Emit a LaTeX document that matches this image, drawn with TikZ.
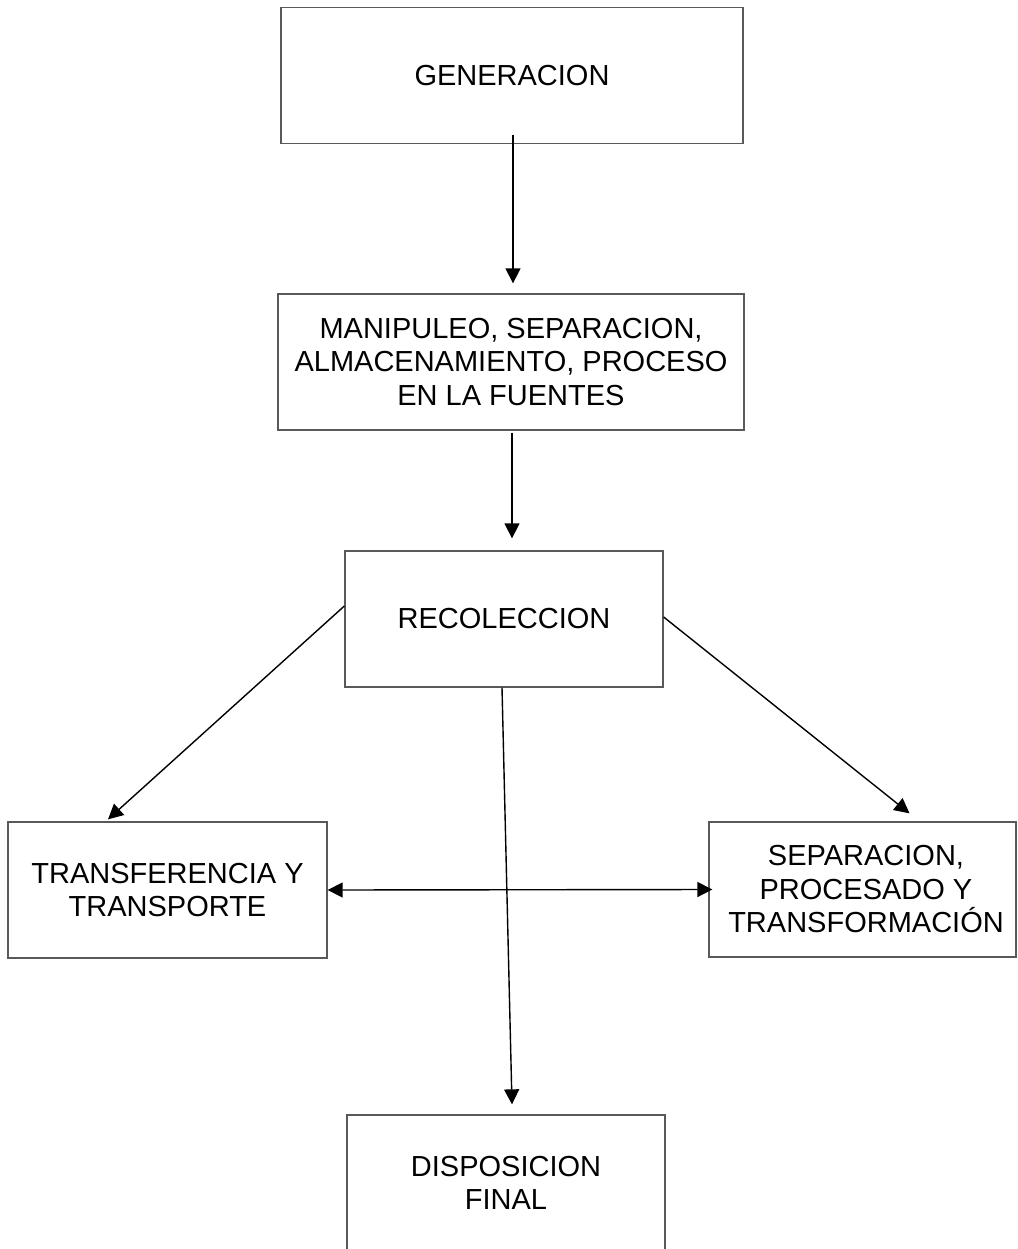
\documentclass[tikz,border=0pt]{standalone}
\usepackage{fontspec}
\setmainfont{Liberation Sans}
\usetikzlibrary{arrows.meta}
\begin{document}
\begin{tikzpicture}[x=1pt,y=-1pt,
  box/.style={draw=black!65, line width=1.3pt, rectangle, inner sep=0pt,
    align=center, font=\fontsize{29}{33.5}\selectfont},
  arr/.style={line width=1.4pt, -{Triangle[length=15pt,width=15pt]}},
  darr/.style={line width=1.4pt, {Triangle[length=15pt,width=15pt]}-{Triangle[length=15pt,width=15pt]}}]
\useasboundingbox[fill=white] (0,0) rectangle (1017,1249);
\node[box, minimum width=462pt, minimum height=136pt] (gen) at (512,75.5) {GENERACION};
\node[box, minimum width=466pt, minimum height=136pt] (man) at (511,362) {MANIPULEO, SEPARACION,\\ALMACENAMIENTO, PROCESO\\EN LA FUENTES};
\node[box, minimum width=318pt, minimum height=136pt] (rec) at (504,619) {RECOLECCION};
\node[box, minimum width=319pt, minimum height=136pt] (tra) at (167.5,890) {TRANSFERENCIA Y\\TRANSPORTE};
\node[box, minimum width=307pt, minimum height=135pt] (sep) at (862.5,889.5) {\hspace*{7pt}SEPARACION,\\\hspace*{7pt}PROCESADO Y\\\hspace*{7pt}TRANSFORMACIÓN};
\node[box, minimum width=318pt, minimum height=136pt] (disp) at (506,1183) {DISPOSICION\\FINAL};
\draw[arr] ([xshift=1pt,yshift=9pt]gen.south) -- ([xshift=2pt,yshift=10pt]man.north);
\draw[arr] ([xshift=1pt,yshift=-2pt]man.south) -- ([xshift=8pt,yshift=12pt]rec.north);
\draw[arr] ([yshift=13pt]rec.west) -- ([xshift=-59.5pt,yshift=2pt]tra.north);
\draw[arr] ([yshift=2pt]rec.east) -- ([xshift=47pt,yshift=8pt]sep.north);
\draw[arr] ([xshift=-2pt]rec.south) -- ([xshift=6pt,yshift=10pt]disp.north);
\draw[darr] (tra.east) -- ([xshift=4pt]sep.west);
\end{tikzpicture}
\end{document}
